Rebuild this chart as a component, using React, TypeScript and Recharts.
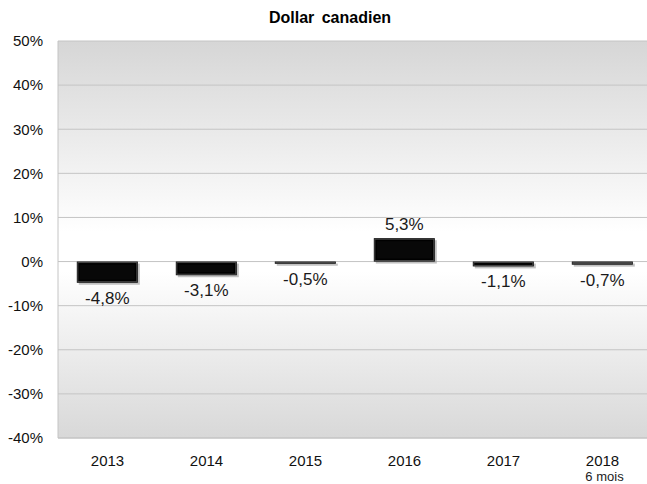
import { BarChart, Bar, XAxis, YAxis, CartesianGrid, LabelList } from "recharts";

const YEARS = ["2013", "2014", "2015", "2016", "2017", "2018"];
const CHANGES = [-4.8, -3.1, -0.5, 5.3, -1.1, -0.7];
const Y_TICKS = [-40, -30, -20, -10, 0, 10, 20, 30, 40, 50];
const SUBTITLES: Record<string, string> = { "2018": "6 mois" };

const data = YEARS.map((year, i) => ({ year, value: CHANGES[i] }));

const FONT = '"Liberation Sans", Arial, sans-serif';

const fmt = (v: number) => `${v.toFixed(1).replace(".", ",")}%`;

function BevelBar(props: any) {
  const { x, y, width, height } = props;
  const top = Math.min(y, y + height);
  const h = Math.abs(height);
  if (!h) return null;
  return (
    <g>
      <rect x={x + 2} y={top + 2} width={width} height={h} fill="#9a9a9a" opacity={0.6} />
      <rect x={x} y={top} width={width} height={h} fill="#000" />
      <rect
        x={x + 1}
        y={top + 1}
        width={Math.max(width - 2, 0)}
        height={Math.max(h - 2, 0)}
        fill="none"
        stroke="#4a4a4a"
        strokeWidth={1}
      />
      {h > 5 && (
        <rect x={x + 3} y={top + 3} width={width - 6} height={h - 6} fill="#080808" />
      )}
    </g>
  );
}

function ValueLabel(props: any) {
  const { x, y, width, height, value } = props;
  const top = Math.min(y, y + height);
  const bottom = Math.max(y, y + height);
  const cx = x + width / 2;
  const ty = value >= 0 ? top - 8 : bottom + 21;
  return (
    <text x={cx} y={ty} textAnchor="middle" fontSize={17} fill="#1a1a1a" fontFamily={FONT}>
      {fmt(value)}
    </text>
  );
}

function YearTick(props: any) {
  const { x, y, payload } = props;
  const sub = SUBTITLES[payload.value];
  return (
    <g>
      <text x={x} y={y + 20} textAnchor="middle" fontSize={15} fill="#111" fontFamily={FONT}>
        {payload.value}
      </text>
      {sub && (
        <text x={x + 2} y={y + 35} textAnchor="middle" fontSize={13} fill="#222" fontFamily={FONT}>
          {sub}
        </text>
      )}
    </g>
  );
}

export default function App() {
  return (
    <div style={{ position: "absolute", left: 0, top: 0, width: 647, height: 484, overflow: "hidden", background: "#fff" }}>
      <svg width={0} height={0} style={{ position: "absolute" }}>
        <defs>
          <linearGradient id="plotBg" x1="0" y1="0" x2="0" y2="1">
            <stop offset="0%" stopColor="#d6d6d6" />
            <stop offset="48%" stopColor="#ffffff" />
            <stop offset="58%" stopColor="#ffffff" />
            <stop offset="100%" stopColor="#d8d8d8" />
          </linearGradient>
        </defs>
      </svg>
      <div
        style={{
          position: "absolute",
          top: 9,
          left: 0,
          width: 660,
          textAlign: "center",
          fontFamily: FONT,
          fontWeight: "bold",
          fontSize: 16,
          color: "#000",
          wordSpacing: 3,
        }}
      >
        Dollar canadien
      </div>
      <BarChart
        width={652}
        height={484}
        data={data}
        margin={{ top: 41, right: 0, bottom: 0, left: 0 }}
        barCategoryGap="19%"
      >
        <CartesianGrid vertical={false} stroke="#c4c4c4" fill="url(#plotBg)" />
        <XAxis
          dataKey="year"
          height={46}
          axisLine={{ stroke: "#c4c4c4" }}
          tickLine={false}
          tick={<YearTick />}
          interval={0}
        />
        <YAxis
          width={58}
          domain={[-40, 50]}
          ticks={Y_TICKS}
          tickFormatter={(v: number) => `${v}%`}
          axisLine={{ stroke: "#c4c4c4" }}
          tickLine={false}
          tickSize={0}
          tickMargin={15}
          tick={{ fontSize: 15, fill: "#111", fontFamily: FONT }}
        />
        <Bar dataKey="value" shape={<BevelBar />} isAnimationActive={false}>
          <LabelList dataKey="value" content={<ValueLabel />} />
        </Bar>
      </BarChart>
    </div>
  );
}
